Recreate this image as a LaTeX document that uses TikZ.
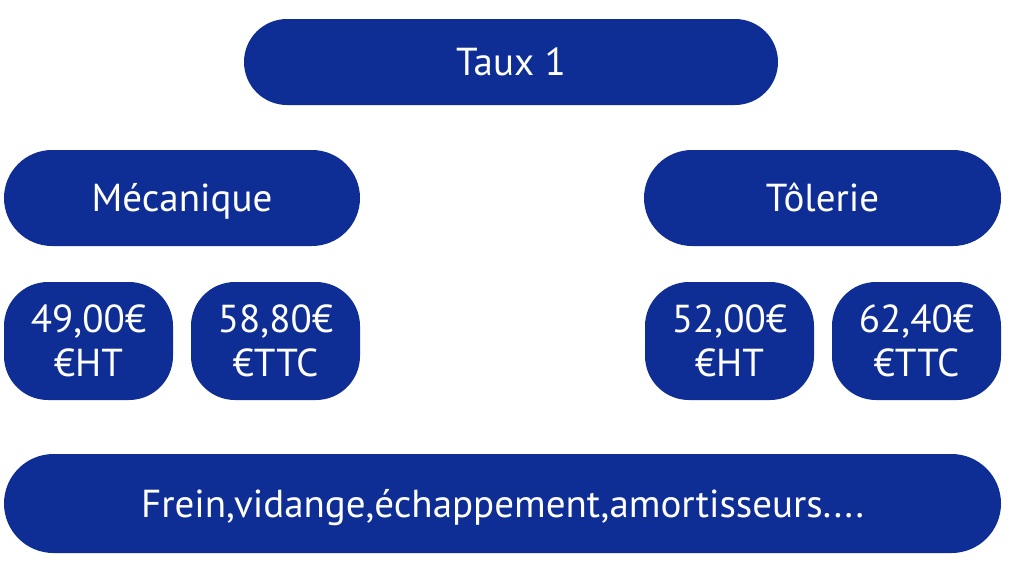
\documentclass[tikz,border=0pt]{standalone}
\usepackage{fontspec}
\setmainfont{PT Sans}
\definecolor{bleu}{RGB}{14,46,150}
\tikzset{
  pill/.style={fill=bleu,text=white,rounded corners=#1,inner sep=0pt,align=center},
  ligne/.style={text height=13.6pt,text depth=0pt},
  prix/.style={pill=22pt,minimum width=84.5pt,minimum height=59pt}
}
\begin{document}
\begin{tikzpicture}[x=0.5pt,y=-0.5pt,every node/.style={font=\fontsize{19.5}{22}\selectfont}]
\useasboundingbox (0,0) rectangle (1033,579);
\node[pill=21.5pt,ligne,minimum width=267pt,minimum height=43pt] (taux) at (511,62) {Taux 1};
\node[pill=24pt,ligne,minimum width=178pt,minimum height=48pt] (meca) at (182,198) {Mécanique};
\node[pill=24pt,ligne,minimum width=178.5pt,minimum height=48pt] (tole) at (822.5,198) {Tôlerie};
\node[prix] (mecaht) at (88.5,341) {49,00€\\€HT};
\node[prix] (mecattc) at (275.5,341) {58,80€\\€TTC};
\node[prix] (toleht) at (729.5,341) {52,00€\\€HT};
\node[prix] (tolettc) at (916.5,341) {62,40€\\€TTC};
\node[pill=24.75pt,ligne,minimum width=498.5pt,minimum height=49.5pt] (travaux) at (502.5,503.5) {Frein,vidange,échappement,amortisseurs....};
\end{tikzpicture}
\end{document}
